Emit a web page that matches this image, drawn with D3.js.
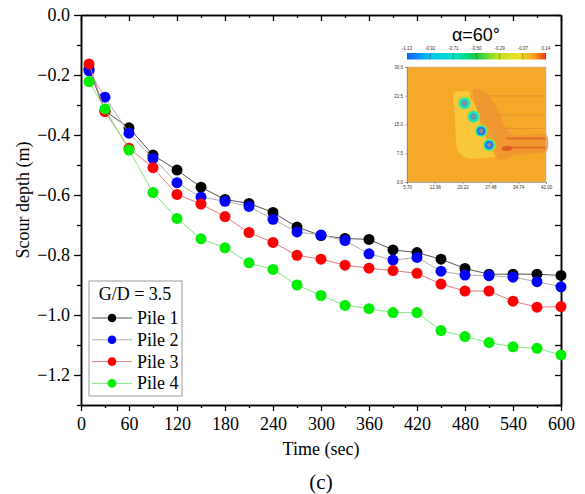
<!DOCTYPE html>
<html>
<head>
<meta charset="utf-8">
<script src="https://cdn.jsdelivr.net/npm/d3@7/dist/d3.min.js"></script>
<style>
  body { margin: 0; background: #fff; }
  svg { display: block; }
</style>
</head>
<body>
<svg id="chart" width="585" height="494"></svg>
<script>
// ---- main chart data ----
const times = [10, 30, 60, 90, 120, 150, 180, 210, 240, 270, 300, 330, 360, 390, 420, 450, 480, 510, 540, 570, 600];
const pile1 = [-0.180, -0.320, -0.376, -0.467, -0.517, -0.574, -0.615, -0.628, -0.658, -0.707, -0.735, -0.745, -0.748, -0.783, -0.792, -0.814, -0.845, -0.864, -0.864, -0.864, -0.868];
const pile2 = [-0.186, -0.274, -0.394, -0.478, -0.559, -0.607, -0.621, -0.638, -0.681, -0.723, -0.733, -0.752, -0.796, -0.817, -0.808, -0.854, -0.867, -0.869, -0.874, -0.889, -0.906];
const pile3 = [-0.163, -0.322, -0.444, -0.509, -0.598, -0.630, -0.672, -0.725, -0.758, -0.801, -0.814, -0.834, -0.844, -0.852, -0.861, -0.897, -0.920, -0.920, -0.954, -0.974, -0.972];
const pile4 = [-0.222, -0.313, -0.450, -0.592, -0.678, -0.746, -0.776, -0.826, -0.848, -0.900, -0.935, -0.968, -0.979, -0.992, -0.992, -1.052, -1.072, -1.092, -1.106, -1.111, -1.133];
const seriesNames = ["Pile 1", "Pile 2", "Pile 3", "Pile 4"];
const xTicks = [0, 60, 120, 180, 240, 300, 360, 420, 480, 540, 600];
const xMinorTicks = [30, 90, 150, 210, 270, 330, 390, 450, 510, 570];
const yTicks = [0, -0.2, -0.4, -0.6, -0.8, -1.0, -1.2];
const yMinorTicks = [-0.1, -0.3, -0.5, -0.7, -0.9, -1.1, -1.3];
const legendTitle = "G/D = 3.5";

// ---- inset (scour contour snapshot) ----
const insetTitle = "\u03b1=60\u00b0";
const colorbarLabels = ["-1.13", "-0.92", "-0.71", "-0.50", "-0.29", "-0.07", "0.14"];
const insetXTicks = [5.70, 12.96, 20.22, 27.48, 34.74, 42.00];
const insetYTicks = [0, 7.5, 15, 22.5, 30];
const pileX = [20.7, 23.06, 25.06, 27.15];
const pileY = [20.56, 17.05, 13.3, 9.62];
const depositZone = [[17.85, 23.2], [21.75, 23.6], [22.6, 21.4], [28.7, 11.8], [30.0, 7.9], [28.7, 6.6], [22.6, 6.1], [20.0, 7.0], [18.7, 9.2], [18.1, 18.8]];
const wakeZone = [[23.06, 24.04], [26.1, 23.6], [29.57, 18.8], [31.3, 14.4], [33.9, 12.2], [42, 12.5], [42, 7.87], [33.9, 7.0], [30.0, 5.7], [27.85, 8.3], [25.2, 14.4], [23.5, 20.56]];
const streakY = [22.47, 17.49, 14.0, 11.38, 9.02];
const streakStart = [25.5, 28.6, 30.2, 31.7, 32.5];
const hotSpot = [31.76, 8.76];

const svg = d3.select("#chart");
const serif = "'Liberation Serif', 'Times New Roman', serif";
const sans = "'Liberation Sans', Arial, sans-serif";

// scales
const x = d3.scaleLinear().domain([0, 600]).range([81, 561]);
const y = d3.scaleLinear().domain([-1.3, 0]).range([405, 15]);

// axes
function styleAxis(g, labels) {
  g.select(".domain").attr("stroke", "#000").attr("stroke-width", 1.5);
  g.selectAll(".tick line").attr("stroke", "#000").attr("stroke-width", 1.3);
  g.selectAll(".tick text")
    .attr("font-family", serif).attr("font-size", 18).attr("fill", "#000");
  if (!labels) g.selectAll(".tick text").remove();
}

const fmt = d3.format(".1f");

svg.append("g").attr("transform", "translate(0,405)")
  .call(d3.axisBottom(x).tickValues(xTicks).tickSize(6).tickSizeOuter(0).tickPadding(6))
  .call(g => styleAxis(g, true));
svg.append("g").attr("transform", "translate(0,405)")
  .call(d3.axisBottom(x).tickValues(xMinorTicks).tickSize(3).tickSizeOuter(0))
  .call(g => styleAxis(g, false));

svg.append("g").attr("transform", "translate(81,0)")
  .call(d3.axisLeft(y).tickValues(yTicks).tickSize(7).tickSizeOuter(0).tickPadding(4).tickFormat(fmt))
  .call(g => styleAxis(g, true));
svg.append("g").attr("transform", "translate(81,0)")
  .call(d3.axisLeft(y).tickValues(yMinorTicks).tickSize(4).tickSizeOuter(0))
  .call(g => styleAxis(g, false));

// mirrored top and right, ticks inward
svg.append("g").attr("transform", "translate(0,15)")
  .call(d3.axisBottom(x).tickValues(xTicks).tickSize(6).tickSizeOuter(0))
  .call(g => styleAxis(g, false));
svg.append("g").attr("transform", "translate(0,15)")
  .call(d3.axisBottom(x).tickValues(xMinorTicks).tickSize(3).tickSizeOuter(0))
  .call(g => styleAxis(g, false));
svg.append("g").attr("transform", "translate(561,0)")
  .call(d3.axisLeft(y).tickValues(yTicks).tickSize(6).tickSizeOuter(0))
  .call(g => styleAxis(g, false));
svg.append("g").attr("transform", "translate(561,0)")
  .call(d3.axisLeft(y).tickValues(yMinorTicks).tickSize(6).tickSizeOuter(0))
  .call(g => styleAxis(g, false));

// axis titles
svg.append("text")
  .attr("x", 321).attr("y", 455)
  .attr("text-anchor", "middle")
  .attr("font-family", serif).attr("font-size", 18)
  .text("Time (sec)");
svg.append("text")
  .attr("x", 321).attr("y", 489)
  .attr("text-anchor", "middle")
  .attr("font-family", serif).attr("font-size", 21)
  .text("(c)");
svg.append("text")
  .attr("transform", "translate(29,200) rotate(-90)")
  .attr("text-anchor", "middle")
  .attr("font-family", serif).attr("font-size", 18)
  .text("Scour depth (m)");

// ---- inset ----
const inset = svg.append("g");
const ix = d3.scaleLinear().domain([5.70, 42.00]).range([407, 546]);
const iy = d3.scaleLinear().domain([0, 30]).range([182, 67]);

inset.append("text")
  .attr("x", 476).attr("y", 41)
  .attr("text-anchor", "middle")
  .attr("font-family", sans).attr("font-size", 18)
  .text(insetTitle);

// colorbar
const cbColor = d3.scaleLinear()
  .domain([0, 0.17, 0.35, 0.5, 0.65, 0.8, 0.92, 1])
  .range(["#1060ff", "#00c8f0", "#00e0c0", "#10d040", "#b8e020", "#f0e020", "#f8a020", "#f03010"]);
const defs = svg.append("defs");
const grad = defs.append("linearGradient").attr("id", "cb");
d3.range(0, 1.0001, 0.05).forEach(t => {
  grad.append("stop").attr("offset", t).attr("stop-color", cbColor(t));
});
const cbX = d3.scalePoint().domain(colorbarLabels).range([407, 546]);
inset.append("rect")
  .attr("x", 407).attr("y", 53).attr("width", 139).attr("height", 6.5)
  .attr("fill", "url(#cb)");
inset.selectAll(".cbdiv")
  .data(colorbarLabels.slice(1, -1))
  .join("line")
  .attr("x1", d => cbX(d)).attr("x2", d => cbX(d))
  .attr("y1", 53).attr("y2", 59.5)
  .attr("stroke", "#555").attr("stroke-width", 0.5);
inset.selectAll(".cblab")
  .data(colorbarLabels)
  .join("text")
  .attr("x", d => cbX(d)).attr("y", 50)
  .attr("text-anchor", "middle")
  .attr("font-family", sans).attr("font-size", 4.5).attr("fill", "#333")
  .text(d => d);

// contour field
inset.append("rect")
  .attr("x", 407).attr("y", 67).attr("width", 139).attr("height", 115)
  .attr("fill", "#f6a928");
const closedCurve = d3.line()
  .x(d => ix(d[0])).y(d => iy(d[1]))
  .curve(d3.curveCardinalClosed.tension(0.4));
inset.append("path")
  .attr("d", closedCurve(depositZone))
  .attr("fill", "#f8c83a");
inset.append("path")
  .attr("d", closedCurve(wakeZone))
  .attr("fill", "#ee9430").attr("opacity", 0.85);
inset.selectAll(".streak")
  .data(streakY)
  .join("line")
  .attr("x1", (d, i) => ix(streakStart[i])).attr("x2", ix(42))
  .attr("y1", d => iy(d)).attr("y2", d => iy(d))
  .attr("stroke", (d, i) => i >= 3 ? "#e2602a" : "#ea8c34")
  .attr("stroke-width", (d, i) => i >= 3 ? 2 : 1.2)
  .attr("opacity", 0.8);
inset.append("ellipse")
  .attr("cx", ix(hotSpot[0])).attr("cy", iy(hotSpot[1]))
  .attr("rx", 5).attr("ry", 2.5)
  .attr("fill", "#e04a22").attr("opacity", 0.8);

// piles with scour holes
const piles = inset.selectAll(".pile").data(pileX).join("g")
  .attr("transform", (d, i) => `translate(${ix(d)},${iy(pileY[i])})`);
piles.append("circle").attr("r", 6.5).attr("fill", "#9ae048");
piles.append("circle").attr("r", 5.3).attr("fill", "#10e0c8");
piles.append("circle").attr("r", (d, i) => i >= 2 ? 4 : 3).attr("fill", (d, i) => i >= 2 ? "#1870ff" : "#30c8e8");
piles.append("circle").attr("r", 2.4).attr("fill", "#8c8c9c").attr("stroke", "#666").attr("stroke-width", 0.4);

// inset axes
inset.append("rect")
  .attr("x", 407).attr("y", 67).attr("width", 139).attr("height", 115)
  .attr("fill", "none").attr("stroke", "#bbb").attr("stroke-width", 0.6);
function styleInsetAxis(g) {
  g.select(".domain").attr("stroke", "#666").attr("stroke-width", 0.5);
  g.selectAll(".tick line").attr("stroke", "#666").attr("stroke-width", 0.5);
  g.selectAll(".tick text").attr("font-family", sans).attr("font-size", 4.5).attr("fill", "#333");
}
inset.append("g").attr("transform", "translate(0,182)")
  .call(d3.axisBottom(ix).tickValues(insetXTicks).tickSize(2).tickPadding(2).tickFormat(d3.format(".2f")))
  .call(styleInsetAxis);
inset.append("g").attr("transform", "translate(407,0)")
  .call(d3.axisLeft(iy).tickValues(insetYTicks).tickSize(2).tickPadding(2).tickFormat(d3.format(".1f")))
  .call(styleInsetAxis);

// ---- series ----
const seriesValues = [pile1, pile2, pile3, pile4];
const markerColors = ["#000000", "#0000ff", "#ff0000", "#00ee00"];
const lineColors = ["#555555", "#b0b0b0", "#e07a7a", "#80e880"];

const line = d3.line().x(d => x(d.t)).y(d => y(d.v));

seriesValues.forEach((vals, i) => {
  const pts = times.map((t, j) => ({ t, v: vals[j] }));
  svg.append("path")
    .datum(pts)
    .attr("d", line)
    .attr("fill", "none")
    .attr("stroke", lineColors[i])
    .attr("stroke-width", 1);
  svg.append("g").selectAll("circle")
    .data(pts)
    .join("circle")
    .attr("cx", d => x(d.t))
    .attr("cy", d => y(d.v))
    .attr("r", 5.5)
    .attr("fill", markerColors[i]);
});

// ---- legend ----
const legend = svg.append("g");
legend.append("rect")
  .attr("x", 89).attr("y", 281).attr("width", 93).attr("height", 115)
  .attr("fill", "#fff").attr("stroke", "#9a9a9a").attr("stroke-width", 1);
legend.append("text")
  .attr("x", 135).attr("y", 300)
  .attr("text-anchor", "middle")
  .attr("font-family", serif).attr("font-size", 18)
  .text(legendTitle);
seriesNames.forEach((name, i) => {
  const cy = 318 + i * 21.8;
  legend.append("line")
    .attr("x1", 92).attr("x2", 132).attr("y1", cy).attr("y2", cy)
    .attr("stroke", lineColors[i]).attr("stroke-width", 1);
  legend.append("circle")
    .attr("cx", 112).attr("cy", cy).attr("r", 4.3)
    .attr("fill", markerColors[i]);
  legend.append("text")
    .attr("x", 137).attr("y", cy + 6)
    .attr("font-family", serif).attr("font-size", 18)
    .text(name);
});
</script>
</body>
</html>
